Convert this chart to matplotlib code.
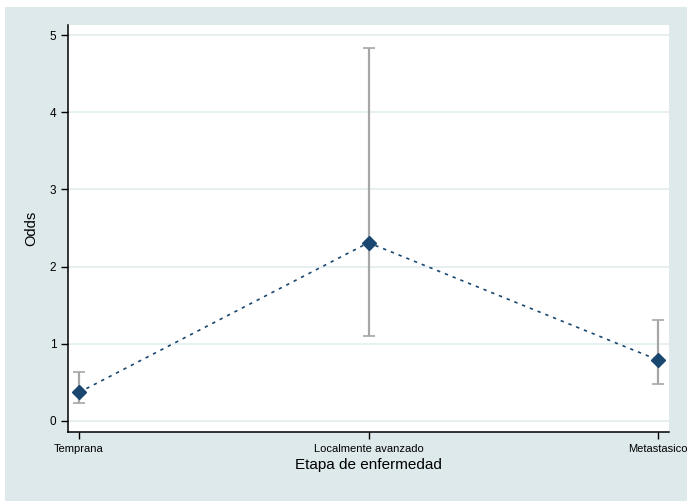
import matplotlib.pyplot as plt
import numpy as np
from matplotlib.patches import Rectangle

# Odds by disease stage with confidence intervals
stages = ['Temprana', 'Localmente avanzado', 'Metastasico']
odds = [0.37, 2.31, 0.79]
ci_low = [0.23, 1.10, 0.48]
ci_high = [0.64, 4.83, 1.31]

navy = '#1a476f'
bg = '#dde9eb'

plt.rcParams['font.family'] = ['Liberation Sans', 'DejaVu Sans']

fig = plt.figure(figsize=(6.91, 5.01), dpi=100)
fig.patch.set_facecolor('white')
fig.patches.append(Rectangle((5 / 691, 0), 682 / 691, 494 / 501,
                             transform=fig.transFigure, facecolor=bg,
                             edgecolor='none', zorder=-10))

ax = fig.add_axes([68 / 691, 69 / 501, 601 / 691, 407 / 501])
ax.set_facecolor('white')

x = np.arange(len(stages))
odds = np.array(odds)
yerr = [odds - np.array(ci_low), np.array(ci_high) - odds]

ax.errorbar(x, odds, yerr=yerr, fmt='none', ecolor='#a6a6a6',
            elinewidth=1.6, capsize=4, capthick=1.2, zorder=2)
ax.plot(x, odds, linestyle=(0, (2, 3)), color=navy, linewidth=1.2, zorder=3)
ax.plot(x, odds, linestyle='none', marker='D', markersize=7,
        color=navy, zorder=4)

ax.set_xlim(-0.038, 2.038)
ax.set_ylim(-0.143, 5.13)
ax.set_yticks(range(0, 6))
ax.set_xticks(x)
ax.set_xticklabels(stages, fontsize=8)
ax.tick_params(axis='y', labelsize=8.5, length=5, width=1)
ax.tick_params(axis='x', length=5, width=1)
ax.grid(axis='y', color='#e2eeee', linewidth=1.2)
ax.set_axisbelow(True)

for side in ['top', 'right']:
    ax.spines[side].set_visible(False)
for side in ['left', 'bottom']:
    ax.spines[side].set_linewidth(1.1)

ax.set_ylabel('Odds', fontsize=10.5, labelpad=8)
ax.set_xlabel('Etapa de enfermedad', fontsize=11, labelpad=3)

fig.savefig('out.png', dpi=100)
